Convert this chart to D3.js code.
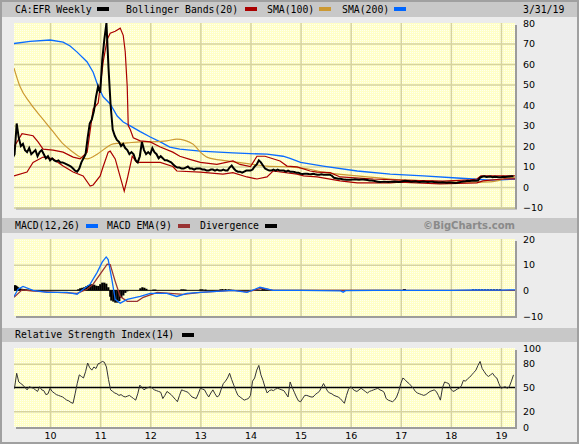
<!DOCTYPE html>
<html><head><meta charset="utf-8">
<script src="https://cdn.jsdelivr.net/npm/d3@7"></script>
<style>body{margin:0;background:#ececec}svg{display:block}</style>
</head><body><svg id="c" width="579" height="444"></svg>
<script>
// ---------- DATA ----------
const yearTicks = [2010,2011,2012,2013,2014,2015,2016,2017,2018,2019];
const yearLabels = ["10","11","12","13","14","15","16","17","18","19"];
const priceStart = 2009.25, priceStep = 1/24; // semi-monthly samples
const price = [
 14,16,31,24,20,21,18,17,19,16,17,18,15,17,18,16,14,15,
 13,14,13,12.5,13,12,12,11.5,11,10.5,10,9,8,7.5,9,12,14,16,24,31,33,37,44,49,
 46,62,72,80,58,40,28,25,23,22,20,21,19,18,16,17,16,13,12,15,22,18,16,17,
 16,19,17,16,14,15,14,13,13,12.5,12,11,10,9.5,9.5,9,9,9.5,10,9,9,8.5,9,9,
 9,8.5,8.5,8,8,8.5,8.5,8,8.5,8,8,8.5,8,8,9.5,10.5,9,8,7.5,7.5,7,7.5,8,8,
 8,8.5,10,11,13,12,10.5,9,8.5,8,8,8.5,8,8.5,8,8,8,7.5,8,7.5,7.5,7.3,7,7,
 6.5,6.3,6.5,6.5,6.3,6.2,6.5,6.2,6,6,6.2,6,6,6,6,5.5,4.5,4.3,4,4,3.8,3.6,3.5,3.5,
 3.5,3.6,3.8,3.7,3.5,3.6,3.7,3.5,3.4,3.2,3.2,3,2.8,2.6,2.4,2.5,2.6,2.5,2.4,2.5,2.6,2.7,2.6,2.5,
 2.6,2.8,3,2.9,2.8,2.6,2.7,2.8,2.6,2.5,2.6,2.7,2.5,2.4,2.5,2.6,2.4,2.3,2.2,2.2,2.3,2.2,2.1,2.2,
 2.2,2.1,2.0,2.1,2.3,2.5,2.7,2.8,3.0,2.9,3.0,3.2,3.1,3.2,4.6,5.0,5.2,4.9,5.0,5.1,4.8,5.0,4.9,4.8,
 4.8,5.0,4.9,5.0,5.1,5.2,5.3];
const rsi = [
 45,50,68,57,55,53,50,47,51,50,49,47,45,51,47,46,41,42,
 49,45,43,41,40,39,38,36,34,33,31,30,42,55,66,64,62,70,81,75,72,76,74,80,
 81,83,82,76,60,47,45,43,42,40,41,39,38,39,40,38,36,34,42,53,50,47,49,50,
 51,49,47,46,45,44,36,40,45,43,41,38,35,32,40,47,46,45,44,41,38,37,36,42,
 49,48,47,42,38,43,47,42,38,40,48,55,58,62,68,60,53,46,40,38,36,34,35,36,
 40,58,62,72,78,66,59,50,43,46,47,46,48,49,48,47,46,42,38,57,50,44,38,33,
 32,36,40,40,39,38,38,41,43,45,50,55,50,45,43,42,40,39,38,36,33,30,40,48,
 51,48,46,45,47,49,47,45,43,45,46,47,48,49,47,46,44,36,34,33,32,34,38,45,
 55,62,60,57,55,52,49,45,43,42,41,40,41,43,45,46,47,45,40,34,50,57,56,55,
 48,45,46,48,49,52,59,58,61,63,66,69,72,78,83,74,70,66,64,66,68,64,62,55,
 49,50,51,49,51,58,66];
const sma200Dates = [2009.28,2009.6,2010.0,2010.26,2010.4,2010.54,2010.74,2010.86,2010.96,2011.06,2011.2,2011.34,2011.46,2011.6,2011.8,2012.0,2012.2,2012.39,2012.59,2013.0,2013.65,2014.33,2014.65,2014.79,2015.0,2015.45,2016.13,2016.79,2017.45,2018.12,2018.44,2018.78,2019.0,2019.28];
const sma200Values = [70,71,71.7,70.7,68.8,65.8,61,56,49,44,40.5,34.6,31.7,29.8,27,24.4,22,19.5,18.5,17.5,16.6,16,15,14,12,10.2,7.8,6.3,5.4,4.4,3.9,3.4,3.5,3.9];
const sma100Dates = [2009.28,2009.4,2009.6,2009.86,2010.06,2010.26,2010.46,2010.6,2010.74,2010.94,2011.14,2011.26,2011.54,2011.8,2012.0,2012.33,2012.53,2012.85,2013.0,2013.13,2013.53,2014.0,2014.33,2014.79,2015.13,2015.45,2016.13,2016.79,2017.45,2018.12,2018.44,2018.78,2018.92,2019.12,2019.28];
const sma100Values = [58,49,41,33,27,21,17,14.6,13.7,16,19.5,21,21.5,22,22,22.5,23.4,21,17,14.6,12.7,11.2,10.2,9.8,8.8,7.3,5.4,3.9,3,2.4,2.4,2.5,3,4.4,4.8];
const bbUpperDates = [2009.28,2009.44,2009.66,2009.76,2009.86,2010.06,2010.26,2010.46,2010.6,2010.74,2010.86,2010.96,2011.06,2011.14,2011.2,2011.3,2011.4,2011.46,2011.5,2011.54,2011.56,2011.6,2011.66,2011.8,2012.0,2012.2,2012.45,2012.59,2012.79,2013.0,2013.33,2013.65,2013.79,2014.0,2014.13,2014.29,2014.59,2014.73,2014.93,2015.19,2015.33,2015.59,2015.79,2016.45,2016.98,2017.84,2018.38,2018.52,2018.6,2019.28];
const bbUpperValues = [19.5,26,25,22,18.5,18,17,14.6,13.7,17,38,41,61,72,75,76,77.5,74,66,49,30,28,24,22.5,22,19.5,17,15,13.5,12,11,12.7,11,10,15,15,12.7,10.2,9.8,7.8,7.3,7,4.9,3.9,3.4,2.9,3.5,3.9,5.4,5.5];
const bbLowerDates = [2009.28,2009.54,2009.66,2009.86,2010.06,2010.26,2010.46,2010.66,2010.8,2010.86,2011.0,2011.06,2011.16,2011.2,2011.3,2011.4,2011.48,2011.54,2011.64,2011.73,2012.2,2012.45,2012.53,2013.0,2013.45,2013.65,2013.93,2014.13,2014.33,2014.45,2014.93,2015.06,2015.33,2015.79,2016.13,2016.79,2016.98,2017.78,2018.52,2018.64,2018.78,2019.04,2019.28];
const bbLowerValues = [5.4,7.3,12,14.6,13.7,10.2,7.3,5.4,0.5,1,5.4,10,17,17.5,13.7,4.9,-2,3.9,15,12,12,10,7.8,7.3,6.3,7,4.9,3.9,4.9,7.8,6.3,5.4,4.9,3,2,2,2.4,1.5,2,3,3.4,3.9,4];
const macdDates = [2009.28,2009.36,2009.46,2009.66,2009.94,2010.34,2010.54,2010.66,2010.8,2010.94,2011.04,2011.12,2011.16,2011.24,2011.3,2011.4,2011.54,2011.8,2012.0,2012.33,2012.53,2012.73,2013.0,2013.65,2013.93,2014.19,2014.45,2015.0,2015.8,2015.85,2015.9,2016.5,2017.0,2017.5,2018.0,2018.5,2019.0,2019.28];
const macdValues = [-2.4,0.4,1.5,0,-0.8,-0.8,-1.5,0.4,2.4,7,11,13,12,3.5,-3.5,-5,-3.5,-2.4,-1.2,-1.2,-2.4,-1.2,-0.8,0,-0.8,1.2,0,0,-0.2,-0.7,-0.1,0,0,0,0,0.2,0.1,0.2];
const signalDates = [2009.28,2009.44,2009.66,2009.94,2010.54,2010.74,2010.86,2011.0,2011.14,2011.2,2011.3,2011.4,2011.54,2011.74,2011.86,2012.14,2012.66,2013.0,2013.65,2013.93,2014.23,2014.45,2019.28];
const signalValues = [-2.7,0.2,-0.3,-0.6,-1.2,0.4,2.4,6.3,10.2,10,3.5,-2.4,-4.3,-4.3,-2.7,-0.8,-1.6,-0.8,0,-0.6,0.8,0,0];
const divDates = [2009.28,2009.30,2009.32,2009.34,2009.36,2009.40,2009.44,2009.48,2009.52,2009.56,
 2010.56,2010.60,2010.64,2010.68,2010.72,2010.76,2010.80,2010.84,2010.88,2010.92,2010.96,2011.00,2011.04,2011.08,2011.12,2011.16,
 2011.20,2011.22,2011.26,2011.30,2011.34,2011.38,2011.42,2011.46,2011.50,2011.54,
 2011.80,2011.84,2011.88,2011.92,2012.06,2012.10,2012.62,2012.66,2012.70,2013.0,2013.04,2013.10,
 2013.40,2013.44,2013.50,2013.56,2013.60,2014.24,2014.28,2014.32,2017.06,2017.08,
 2018.44,2018.50,2018.56,2018.62,2018.68,2018.74,2018.80,2018.86,2018.92,2018.98];
const divValues = [1.8,2.0,1.8,1.5,1.2,0.8,0.6,0.5,0.4,0.3,
 0.4,0.8,1.0,1.2,1.6,2.0,2.4,2.4,2.2,1.8,1.7,2.4,3.0,3.0,2.6,1.2,
 -2.5,-4.0,-4.4,-4.8,-4.8,-4.2,-3.0,-2.0,-1.0,-0.4,
 0.8,1.2,1.0,0.6,0.3,0.3,0.4,0.4,0.3,0.4,0.4,0.3,
 0.4,0.5,0.5,0.4,0.3,0.5,0.6,0.4,0.5,0.5,
 0.4,0.4,0.4,0.4,0.4,0.4,0.4,0.4,0.4,0.4];

// ---------- CHART ----------
const svg = d3.select("#c");
const W = 579, H = 444, L = 14, R = 515;
const monoFont = "'DejaVu Sans Mono', monospace";
const sansFont = "'DejaVu Sans', Verdana, sans-serif";
const gridColor = "#d6d39f";
const defs = svg.append("defs");
const pat = defs.append("pattern").attr("id","dots").attr("width",2).attr("height",2).attr("patternUnits","userSpaceOnUse");
pat.append("rect").attr("width",2).attr("height",2).attr("fill","#ffffc6");
pat.append("rect").attr("width",1).attr("height",1).attr("fill","#fffff0");

svg.append("rect").attr("width",W).attr("height",H).attr("fill","#ececec");

const x = d3.scaleLinear().domain([2009.28, 2019.28]).range([L, R]);
const priceT = i => priceStart + i * priceStep;

const panels = {
  main: {top:23, bottom:207.5, domain:[-10,80], labels:[80,70,60,50,40,30,20,10,0,-10], grid:[-10,0,10,20,30,40,50,60,70]},
  macd: {top:239, bottom:316, domain:[-10,20], labels:[20,10,0,-10], grid:[10]},
  rsi:  {top:348, bottom:427, domain:[0,100], labels:[100,80,50,20,0], grid:[20,80]}
};

function drawPanel(name, p) {
  const y = d3.scaleLinear().domain(p.domain).range([p.bottom, p.top]);
  const g = svg.append("g");
  g.append("rect").attr("x",L+2).attr("y",p.top+2).attr("width",R-L).attr("height",p.bottom-p.top).attr("fill","#9c9c9c");
  g.append("rect").attr("x",L).attr("y",p.top).attr("width",R-L).attr("height",p.bottom-p.top).attr("fill","url(#dots)");
  g.append("g").attr("transform",`translate(0,${p.bottom})`)
    .call(d3.axisBottom(x).tickValues(yearTicks).tickSize(-(p.bottom-p.top)).tickFormat(""))
    .call(a=>a.select(".domain").remove())
    .call(a=>a.selectAll("line").attr("stroke",gridColor).attr("stroke-width",1.5));
  g.append("g").attr("transform",`translate(${L},0)`)
    .call(d3.axisLeft(y).tickValues(p.grid).tickSize(-(R-L)).tickFormat(""))
    .call(a=>a.select(".domain").remove())
    .call(a=>a.selectAll("line").attr("stroke",gridColor).attr("stroke-width",1.5));
  g.append("g").attr("transform",`translate(${R},0)`)
    .call(d3.axisRight(y).tickValues(p.labels).tickSize(0).tickPadding(8).tickFormat(d3.format("d")))
    .call(a=>a.select(".domain").remove())
    .call(a=>a.selectAll("text").attr("font-family",sansFont).attr("font-size","9.5px").attr("fill","#000"));
  defs.append("clipPath").attr("id","clip-"+name).append("rect")
    .attr("x",L).attr("y",p.top).attr("width",R-L).attr("height",p.bottom-p.top);
  const inner = g.append("g").attr("clip-path",`url(#clip-${name})`);
  return {y, inner};
}

// header bands
svg.append("rect").attr("x",0).attr("y",0).attr("width",W).attr("height",17).attr("fill","#c8c8c8");
svg.append("rect").attr("x",0).attr("y",218).attr("width",W).attr("height",15).attr("fill","#c8c8c8");
svg.append("rect").attr("x",0).attr("y",328).attr("width",W).attr("height",14).attr("fill","#c8c8c8");

function legendText(t, xx, yy, opts={}) {
  return svg.append("text").attr("x",xx).attr("y",yy).text(t)
    .attr("font-family",opts.font||monoFont).attr("font-size",opts.size||"9.8px")
    .attr("font-weight",opts.weight||"normal").attr("fill",opts.fill||"#000")
    .attr("text-anchor",opts.anchor||"start");
}
function swatch(xx, yy, c) {
  svg.append("rect").attr("x",xx).attr("y",yy).attr("width",12).attr("height",4).attr("fill",c);
}
legendText("CA:EFR Weekly",15,13); swatch(97,7,"#000");
legendText("Bollinger Bands(20)",126,13); swatch(245,7,"#aa0000");
legendText("SMA(100)",267,13); swatch(319,7,"#cc9933");
legendText("SMA(200)",342,13); swatch(394,7,"#0066ff");
legendText("3/31/19",523,13);
legendText("MACD(12,26)",15,229); swatch(86,224,"#0066ff");
legendText("MACD EMA(9)",107,229); swatch(178,224,"#993333");
legendText("Divergence",200,229); swatch(265,224,"#000");
legendText("\u00a9BigCharts.com",515,229,{font:sansFont,size:"10px",weight:"bold",fill:"#8a8a8a",anchor:"end"});
legendText("Relative Strength Index(14)",15,338); swatch(182,333,"#000");

// main panel
const M = drawPanel("main", panels.main);
const lineXY = (dates, vals, y) => d3.line().x((d,i)=>x(dates[i])).y(d=>y(d))(vals);
M.inner.append("path").attr("d", lineXY(sma200Dates, sma200Values, M.y))
  .attr("fill","none").attr("stroke","#0a6cff").attr("stroke-width",1.3);
M.inner.append("path").attr("d", d3.line().x((d,i)=>x(sma100Dates[i])).y(d=>M.y(d)).curve(d3.curveMonotoneX)(sma100Values))
  .attr("fill","none").attr("stroke","#cc9933").attr("stroke-width",1.2);
M.inner.append("path").attr("d", lineXY(bbUpperDates, bbUpperValues, M.y))
  .attr("fill","none").attr("stroke","#aa0000").attr("stroke-width",1.2);
M.inner.append("path").attr("d", lineXY(bbLowerDates, bbLowerValues, M.y))
  .attr("fill","none").attr("stroke","#aa0000").attr("stroke-width",1.2);
M.inner.append("path").attr("d", d3.line().x((d,i)=>x(priceT(i))).y(d=>M.y(d))(price))
  .attr("fill","none").attr("stroke","#000").attr("stroke-width",2);

// MACD panel
const D = drawPanel("macd", panels.macd);
D.inner.append("line").attr("x1",L).attr("x2",x(2017.0)).attr("y1",D.y(0)).attr("y2",D.y(0)).attr("stroke","#000").attr("stroke-width",1);
D.inner.selectAll("rect.div").data(divValues).join("rect").attr("class","div")
  .attr("x",(d,i)=>x(divDates[i])-1).attr("width",2.2)
  .attr("y",d=>Math.min(D.y(d),D.y(0))).attr("height",d=>Math.max(1,Math.abs(D.y(d)-D.y(0))))
  .attr("fill","#000");
D.inner.append("path").attr("d", lineXY(signalDates, signalValues, D.y))
  .attr("fill","none").attr("stroke","#993333").attr("stroke-width",1.3);
D.inner.append("path").attr("d", lineXY(macdDates, macdValues, D.y))
  .attr("fill","none").attr("stroke","#0a6cff").attr("stroke-width",1.3);

// RSI panel
const S = drawPanel("rsi", panels.rsi);
S.inner.append("line").attr("x1",L).attr("x2",R).attr("y1",S.y(50)).attr("y2",S.y(50)).attr("stroke","#000").attr("stroke-width",1.5);
S.inner.append("path").attr("d", d3.line().x((d,i)=>x(priceT(i))).y(d=>S.y(d))(rsi))
  .attr("fill","none").attr("stroke","#333").attr("stroke-width",1);

// x axis labels
svg.append("g").attr("transform",`translate(0,${panels.rsi.bottom})`)
  .call(d3.axisBottom(x).tickValues(yearTicks).tickSize(0).tickPadding(5).tickFormat((d,i)=>yearLabels[i]))
  .call(a=>a.select(".domain").remove())
  .call(a=>a.selectAll("text").attr("font-family",sansFont).attr("font-size","9.5px").attr("fill","#000"));

// outer frame
svg.append("rect").attr("x",1).attr("y",1).attr("width",W-2).attr("height",H-2).attr("fill","none").attr("stroke","#a0a0a0").attr("stroke-width",2);
</script></body></html>
